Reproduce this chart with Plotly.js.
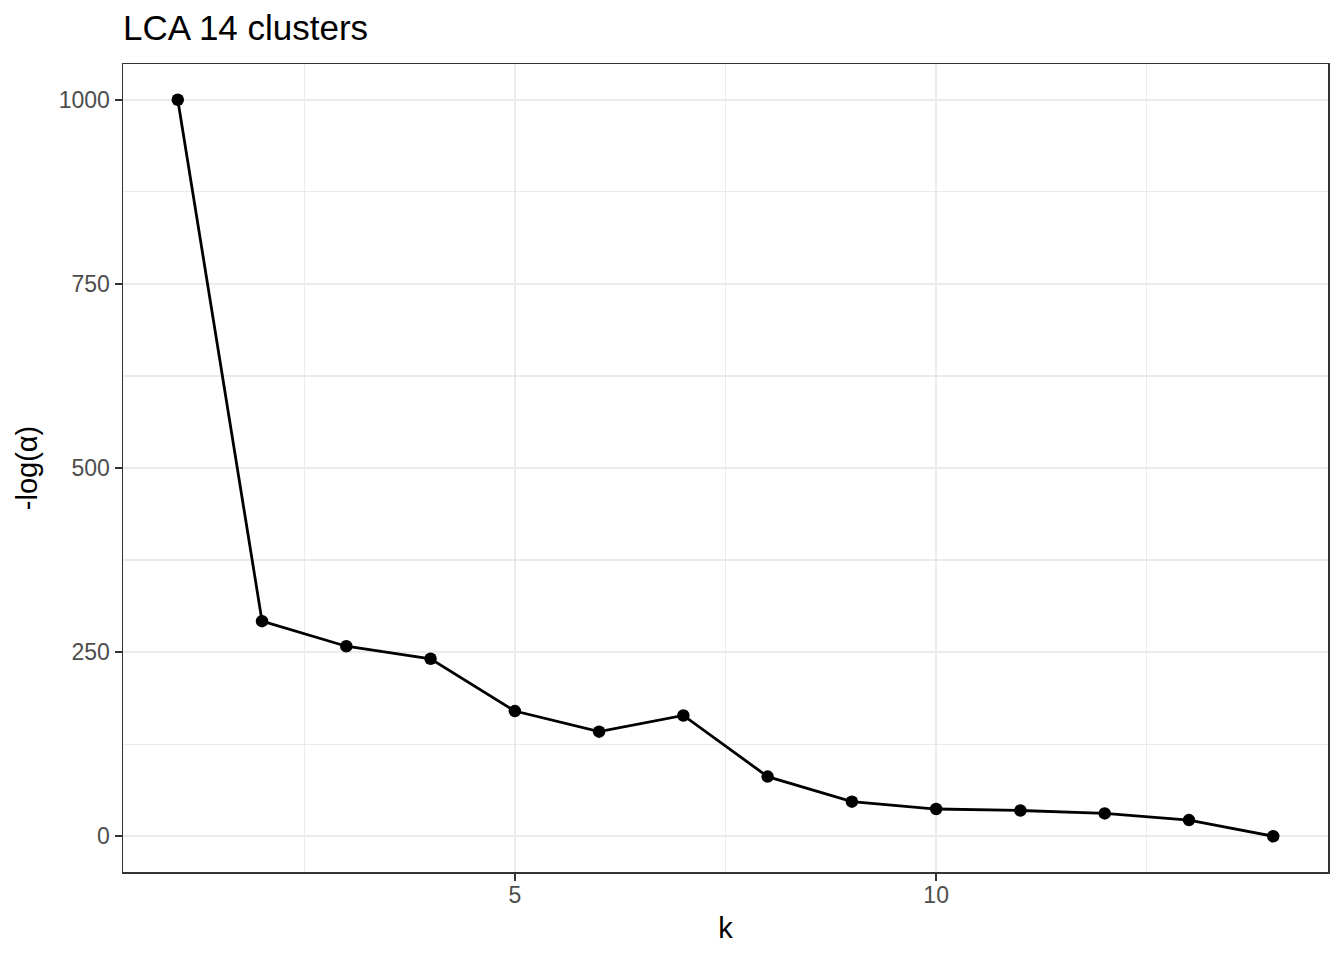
<!DOCTYPE html>
<html>
<head>
<meta charset="utf-8">
<script src="https://cdn.plot.ly/plotly-3.0.1.min.js"></script>
<style>html,body{margin:0;padding:0;background:#fff;}#chart{width:1344px;height:960px;}</style>
</head>
<body>
<div id="chart"></div>
<script>
const k = [1, 2, 3, 4, 5, 6, 7, 8, 9, 10, 11, 12, 13, 14];
const negLogAlpha = [1000, 292, 258, 241, 170, 142, 164, 81, 47, 37, 35, 31, 22, 0];
const xTicks = [5, 10];
const xMinor = [2.5, 7.5, 12.5];
const yTicks = [0, 250, 500, 750, 1000];
const yMinor = [125, 375, 625, 875];
const titleText = "LCA 14 clusters";
const xTitle = "k";
const yTitle = "-log(α)";

const font = "Liberation Sans, Arial, Helvetica, sans-serif";

const trace = {
  x: k, y: negLogAlpha, type: "scatter", mode: "lines+markers",
  line: {color: "#000000", width: 2.8},
  marker: {color: "#000000", size: 12.5},
  hoverinfo: "x+y", showlegend: false
};

const axisCommon = {
  showline: true, mirror: true, linecolor: "#333333", linewidth: 1.5,
  zeroline: false, showgrid: true, gridcolor: "#EBEBEB", gridwidth: 2.2,
  ticks: "outside", ticklen: 7, tickwidth: 2, tickcolor: "#333333",
  tickfont: {family: font, size: 23, color: "#4D4D4D"},
  tickmode: "array"
};

const layout = {
  width: 1344, height: 960,
  paper_bgcolor: "#ffffff", plot_bgcolor: "#ffffff",
  margin: {l: 123, r: 16, t: 64, b: 88, pad: 0},
  font: {family: font, color: "#000000"},
  title: {
    text: titleText, font: {family: font, size: 35, color: "#000000"},
    x: 123 / 1344, xref: "container", xanchor: "left",
    y: 1 - 28 / 960, yref: "container", yanchor: "middle"
  },
  xaxis: Object.assign({}, axisCommon, {
    range: [0.35, 14.65], tickvals: xTicks, ticktext: xTicks.map(String),
    ticklabelstandoff: -5,
    minor: {tickmode: "array", tickvals: xMinor, showgrid: true, gridcolor: "#EBEBEB", gridwidth: 1.3, ticks: ""},
    title: {text: xTitle, font: {family: font, size: 29, color: "#000000"}, standoff: 10}
  }),
  yaxis: Object.assign({}, axisCommon, {
    range: [-48.5, 1048.5], tickvals: yTicks, ticktext: yTicks.map(String),
    ticklabelstandoff: 0,
    minor: {tickmode: "array", tickvals: yMinor, showgrid: true, gridcolor: "#EBEBEB", gridwidth: 1.3, ticks: ""},
    title: {text: yTitle, font: {family: font, size: 29, color: "#000000"}, standoff: 12}
  })
};

Plotly.newPlot("chart", [trace], layout, {displayModeBar: false, staticPlot: true});
</script>
</body>
</html>
